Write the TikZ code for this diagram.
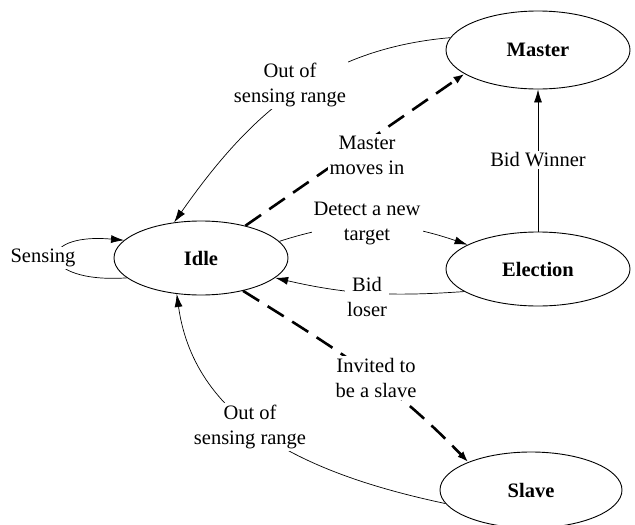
\documentclass[tikz,border=0pt]{standalone}
\usepackage{fontspec}
\setmainfont{Liberation Serif}
\usetikzlibrary{shapes.geometric,arrows.meta}
\begin{document}
\begin{tikzpicture}[x=1pt,y=1pt,
	every node/.style={font=\fontsize{20.5}{25}\selectfont},
	state/.style={ellipse,draw,line width=0.9pt,inner sep=0pt,font=\fontsize{20.5}{25}\selectfont\bfseries},
	lbl/.style={fill=white,align=center,inner sep=2pt},
	edge/.style={line width=0.7pt,-{Latex[length=13pt,width=8pt]}},
	dashedge/.style={line width=2.6pt,dash pattern=on 19pt off 10pt,-{Latex[length=11pt,width=8pt]}}]
	\useasboundingbox (0,0) rectangle (635,-525);
	% states
	\node[state,minimum width=174,minimum height=74] (idle) at (201,-258) {Idle};
	\node[state,minimum width=184,minimum height=78] (master) at (538,-50) {Master};
	\node[state,minimum width=184,minimum height=74] (election) at (538,-269) {Election};
	\node[state,minimum width=182,minimum height=76] (slave) at (531,-490) {Slave};
	% transitions
	\draw[edge] (idle.195) .. controls +(-90,-6) and +(-90,8) .. (idle.167);
	\draw[edge] (master.172) to[out=185,in=55] (idle.127);
	\draw[dashedge] (idle.36) -- (master.198);
	\draw[edge] (idle.12) to[out=18,in=161] (election.161);
	\draw[edge] (election.197) to[out=184,in=-13] (idle.345);
	\draw[edge] (election.north) -- (master.south);
	\draw[dashedge] (idle.322) to[out=-32,in=134] (slave.156);
	\draw[edge] (slave.189) to[out=168,in=-82] (idle.236);
	% labels
	\node[lbl] (sensing) at (43,-258) {Sensing};
	\node[lbl] (outtop) at (290,-85) {Out of\\sensing range};
	\node[lbl] (movesin) at (367,-155) {Master\\moves in};
	\node[lbl] (detect) at (367,-223) {Detect a new\\target};
	\node[lbl] (loser) at (367,-297) {Bid\\loser};
	\node[lbl] (winner) at (538,-160) {Bid Winner};
	\node[lbl] (invited) at (376,-378) {Invited to\\be a slave};
	\node[lbl] (outbot) at (250,-427) {Out of\\sensing range};
\end{tikzpicture}
\end{document}
